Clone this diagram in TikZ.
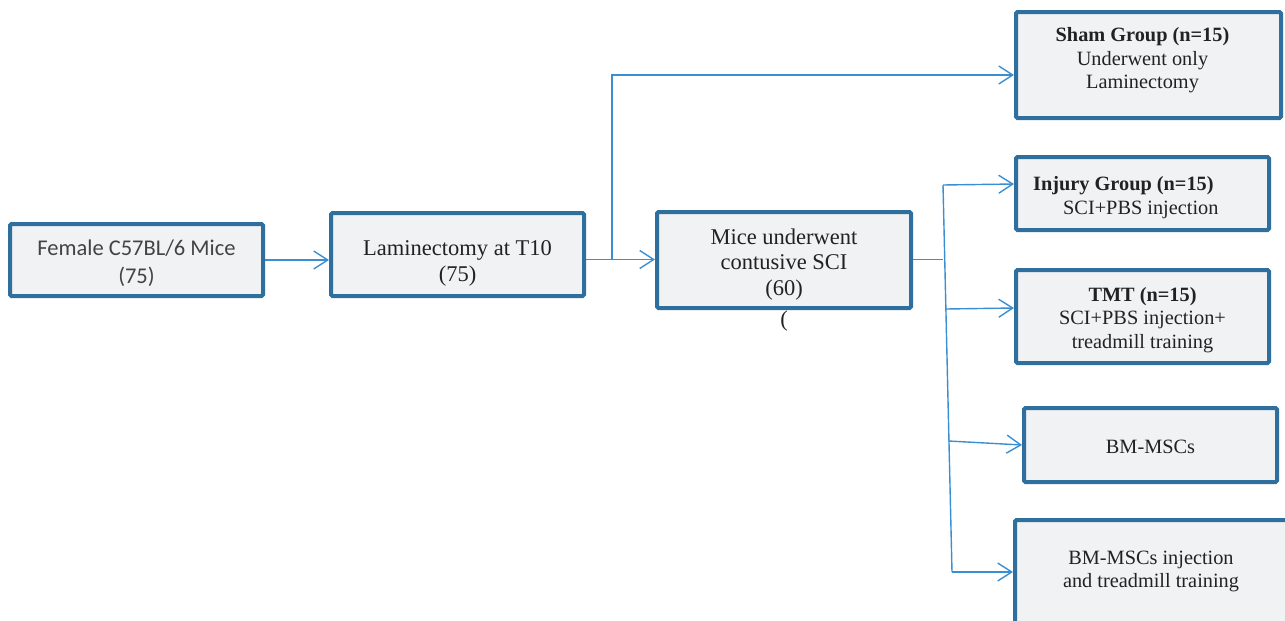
\documentclass[tikz,border=0pt]{standalone}
\usepackage{fontspec}
\setmainfont{Liberation Serif}
\newfontfamily\carlito{Carlito}
\usetikzlibrary{arrows.meta,calc}
\definecolor{boxline}{HTML}{2F6F9E}
\definecolor{boxfill}{HTML}{F1F2F4}
\definecolor{conn}{HTML}{3A8FD3}
\definecolor{txt}{HTML}{222222}
\tikzset{
  box/.style={draw=boxline, fill=boxfill, line width=4pt, rounded corners=1.5pt, inner sep=0pt},
  mid/.style={text=txt, align=center, font=\fontsize{22.5}{25.5}\selectfont, inner sep=0pt},
  side/.style={text=txt, align=center, font=\fontsize{20.3}{23.5}\selectfont, inner sep=0pt},
  sans/.style={text=txt!85!white, align=center, font=\carlito\fontsize{22.5}{28}\selectfont, inner sep=0pt},
  arr/.style={draw=conn, line width=1.4pt, -{Straight Barb[length=14pt,width=18pt,line width=1.4pt]}},
  ln/.style={draw=conn, line width=1.4pt}
}
\begin{document}
\begin{tikzpicture}[x=1pt,y=-1pt]
\useasboundingbox (0,0) rectangle (1285,621);
\begin{scope}
\clip (0,0) rectangle (1285,621);
% boxes
\node[box, minimum width=253pt, minimum height=72pt] (b1) at (136.5,260) {};
\node[box, minimum width=253pt, minimum height=83pt] (b2) at (457.5,254.5) {};
\node[box, minimum width=254pt, minimum height=96pt] (b3) at (784,260) {};
\node[box, minimum width=265pt, minimum height=106pt] (sham) at (1148.5,65) {};
\node[box, minimum width=253pt, minimum height=73pt] (inj) at (1142.5,193.5) {};
\node[box, minimum width=253pt, minimum height=93pt] (tmt) at (1142.5,316.5) {};
\node[box, minimum width=253pt, minimum height=74pt] (bm) at (1150.5,445) {};
\node[box, minimum width=273pt, minimum height=106pt] (bmt) at (1151.5,573) {};
% texts
\node[sans] (t1) at (136.5,263.5) {Female C57BL/6 Mice\\(75)};
\node[mid] (t2) at (457.5,263.5) {Laminectomy at T10\\(75)};
\node[mid] (t3) at (784,264.5) {Mice underwent\\contusive SCI\\(60)};
\node[mid] (paren) at (784,321) {(};
\node[side] (tsham) at (1142.5,60.5) {\textbf{Sham Group (n=15)}\\Underwent only\\Laminectomy};
\node[side, align=left, anchor=west] (tinj) at (1033,197.5) {\textbf{Injury Group (n=15)}\\\hspace*{30pt}SCI+PBS injection};
\node[side] (ttmt) at (1142.5,320) {\textbf{TMT (n=15)}\\SCI+PBS injection+\\treadmill training};
\node[side] (tbm) at (1150.5,446.5) {BM-MSCs};
\node[side] (tbmt) at (1151,571.5) {BM-MSCs injection\\and treadmill training};
% junction coordinates
\coordinate (j1) at (612,259.5);
\coordinate (j2) at (943,259.5);
\coordinate (vtop) at (943,185);
\coordinate (vtmt) at (946,309);
\coordinate (vbm) at (948.5,441);
\coordinate (vbot) at (952,572);
% connectors
\draw[arr] (b1.east) -- (b1.east -| b2.west);
\draw[arr] (b2.east |- j1) -- (b3.west |- j1);
\draw[arr] (j1) |- ($(sham.west)+(0,10)$);
\draw[ln] (b3.east |- j2) -- (j2);
\draw[ln] (vtop) -- (vbot);
\draw[arr] (vtop) -- ($(inj.west)+(0,-9.5)$);
\draw[arr] (vtmt) -- ($(tmt.west)+(0,-8.5)$);
\draw[arr] (vbm) -- (bm.west);
\draw[arr] (vbot) -- ($(bmt.west)+(0,-1)$);
\end{scope}
\end{tikzpicture}
\end{document}
